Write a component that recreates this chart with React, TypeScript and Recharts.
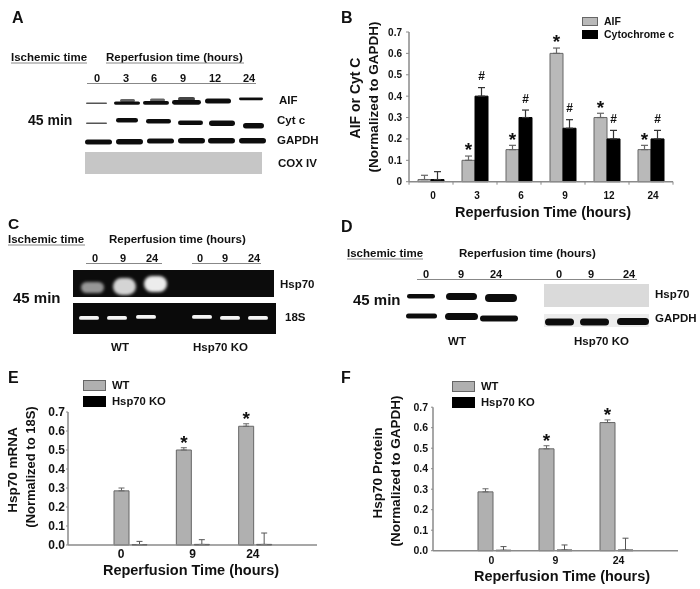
import { BarChart, Bar, XAxis, YAxis, ErrorBar, Legend, LabelList } from "recharts";

// panel B
const timesB = ["0", "3", "6", "9", "12", "24"];
const aifValues = [0.01, 0.1, 0.15, 0.6, 0.3, 0.15];
const aifErrors = [0.02, 0.02, 0.02, 0.025, 0.02, 0.02];
const aifMarks = ["", "*", "*", "*", "*", "*"];
const cytValues = [0.01, 0.4, 0.3, 0.25, 0.2, 0.2];
const cytErrors = [0.037, 0.04, 0.035, 0.04, 0.04, 0.04];
const cytMarks = ["", "#", "#", "#", "#", "#"];
const ticksB = [0, 0.1, 0.2, 0.3, 0.4, 0.5, 0.6, 0.7];

// panels E and F
const timesKo = ["0", "9", "24"];
const mrnaWt = [0.285, 0.5, 0.625];
const mrnaWtErrors = [0.015, 0.012, 0.013];
const mrnaKo = [0.002, 0.003, 0.003];
const mrnaKoErrors = [0.017, 0.025, 0.06];
const proteinWt = [0.287, 0.497, 0.625];
const proteinWtErrors = [0.015, 0.015, 0.013];
const proteinKo = [0.002, 0.003, 0.003];
const proteinKoErrors = [0.018, 0.025, 0.058];
const koMarks = ["", "*", "*"];

const dataB = timesB.map((t, i) => ({
  t,
  aif: aifValues[i],
  aifErr: [0, aifErrors[i]],
  aifMark: aifMarks[i],
  cyt: cytValues[i],
  cytErr: [0, cytErrors[i]],
  cytMark: cytMarks[i],
}));

const toRows = (wt: number[], wtErr: number[], ko: number[], koErr: number[]) =>
  timesKo.map((t, i) => ({
    t,
    wt: wt[i],
    wtErr: [0, wtErr[i]],
    ko: ko[i],
    koErr: [0, koErr[i]],
    mark: koMarks[i],
  }));

const FONT = "'Liberation Sans', Arial, sans-serif";
const GREY = "#b9b9b9";
const WT_GREY = "#b0b0b0";
const EDGE = "#666";
const AXIS = "#8a8a8a";

function T({ x, y, size = 12, anchor = "start", children }: any) {
  return (
    <text x={x} y={y} fontSize={size} fontWeight={700} textAnchor={anchor} fontFamily={FONT} fill="#111">
      {children}
    </text>
  );
}

function VT({ x, y, size = 13, children }: any) {
  return (
    <text
      transform={`translate(${x},${y}) rotate(-90)`}
      fontSize={size}
      fontWeight={700}
      textAnchor="middle"
      fontFamily={FONT}
      fill="#111"
    >
      {children}
    </text>
  );
}

function Rule({ x1, x2, y }: any) {
  return <line x1={x1} x2={x2} y1={y} y2={y} stroke="#888" strokeWidth={1} />;
}

function Band({ x, y, w, h, fill = "#111", blur = "soft" }: any) {
  return <rect x={x} y={y} width={w} height={h} rx={h / 2} fill={fill} filter={`url(#${blur})`} />;
}

function BlotA() {
  return (
    <g>
      <rect x={85} y={152} width={177} height={22} fill="#c6c6c6" />
      <Band x={86} y={102.5} w={21} h={1.6} fill="#555" />
      <Band x={120} y={99} w={15} h={3} fill="#666" />
      <Band x={114} y={101.5} w={26} h={3.2} />
      <Band x={150} y={98.5} w={15} h={3} fill="#666" />
      <Band x={143} y={101} w={26} h={3.7} />
      <Band x={178} y={97} w={17} h={4} fill="#444" />
      <Band x={172} y={100} w={29} h={4.7} />
      <Band x={205} y={98.5} w={26} h={5} />
      <Band x={239} y={97.5} w={24} h={2.7} />

      <Band x={86} y={122.5} w={21} h={1.6} fill="#555" />
      <Band x={116} y={118} w={22} h={4.5} />
      <Band x={146} y={119} w={25} h={4.5} />
      <Band x={178} y={120.5} w={25} h={4.5} />
      <Band x={209} y={120.5} w={26} h={5.5} />
      <Band x={243} y={123} w={21} h={5.5} />

      <Band x={85} y={139.5} w={27} h={5} />
      <Band x={116} y={139} w={27} h={5.5} />
      <Band x={147} y={138.5} w={27} h={5} />
      <Band x={178} y={138} w={27} h={5.5} />
      <Band x={208} y={138} w={27} h={5.5} />
      <Band x={239} y={138} w={27} h={5.5} />
    </g>
  );
}

function BlotC() {
  return (
    <g>
      <rect x={73} y={270} width={201} height={27} fill="#0c0c0c" />
      <rect x={73} y={303} width={203} height={31} fill="#0a0a0a" />
      <Band x={81} y={282} w={23} h={11} fill="#969696" blur="wide" />
      <Band x={113} y={278} w={23} h={17} fill="#d4d4d4" blur="wide" />
      <Band x={144} y={276} w={23} h={16} fill="#ececec" blur="wide" />
      <Band x={79} y={316} w={20} h={3.8} fill="#f4f4f4" />
      <Band x={107} y={316} w={20} h={3.8} fill="#f4f4f4" />
      <Band x={136} y={315} w={20} h={3.8} fill="#f4f4f4" />
      <Band x={192} y={315} w={20} h={3.8} fill="#f4f4f4" />
      <Band x={220} y={316} w={20} h={3.8} fill="#f4f4f4" />
      <Band x={248} y={316} w={20} h={3.8} fill="#f4f4f4" />
    </g>
  );
}

function BlotD() {
  return (
    <g>
      <rect x={544} y={284} width={105} height={23} fill="#dadada" />
      <rect x={544} y={314} width={105} height={13} fill="#ececec" />
      <Band x={407} y={294} w={28} h={4.5} />
      <Band x={446} y={293} w={31} h={7} />
      <Band x={485} y={294} w={32} h={8} />
      <Band x={406} y={313.5} w={31} h={5} />
      <Band x={445} y={313} w={33} h={7} />
      <Band x={480} y={315.5} w={38} h={6} />
      <Band x={545} y={318.5} w={29} h={7} />
      <Band x={580} y={318.5} w={29} h={7} />
      <Band x={617} y={318} w={32} h={7} />
    </g>
  );
}

function Annotations() {
  return (
    <svg width={700} height={589} style={{ position: "absolute", left: 0, top: 0 }}>
      <defs>
        <filter id="soft" x="-20%" y="-80%" width="140%" height="260%">
          <feGaussianBlur stdDeviation="0.7" />
        </filter>
        <filter id="wide" x="-30%" y="-30%" width="160%" height="160%">
          <feGaussianBlur stdDeviation="1.6" />
        </filter>
      </defs>

      {/* A */}
      <T x={12} y={23} size={16}>A</T>
      <T x={11} y={61} size={11.5}>Ischemic time</T>
      <Rule x1={11} x2={87} y={63} />
      <T x={106} y={61} size={11.5}>Reperfusion time (hours)</T>
      <Rule x1={106} x2={244} y={63} />
      <T x={97} y={82} size={11} anchor="middle">0</T>
      <T x={126} y={82} size={11} anchor="middle">3</T>
      <T x={154} y={82} size={11} anchor="middle">6</T>
      <T x={183} y={82} size={11} anchor="middle">9</T>
      <T x={215} y={82} size={11} anchor="middle">12</T>
      <T x={249} y={82} size={11} anchor="middle">24</T>
      <Rule x1={87} x2={256} y={83.5} />
      <T x={28} y={125} size={14}>45 min</T>
      <T x={279} y={104} size={11.5}>AIF</T>
      <T x={277} y={124} size={11.5}>Cyt c</T>
      <T x={277} y={144} size={11.5}>GAPDH</T>
      <T x={278} y={167} size={11.5}>COX IV</T>
      <BlotA />

      {/* B */}
      <T x={341} y={23} size={16}>B</T>
      <VT x={360} y={98} size={14}>AIF or Cyt C</VT>
      <VT x={378} y={97} size={13.5}>(Normalized to GAPDH)</VT>
      <T x={543} y={217} size={14.5} anchor="middle">Reperfusion Time (hours)</T>

      {/* C */}
      <T x={8} y={229} size={15.5}>C</T>
      <T x={8} y={243} size={11.5}>Ischemic time</T>
      <Rule x1={8} x2={85} y={245} />
      <T x={109} y={243} size={11.5}>Reperfusion time (hours)</T>
      <T x={95} y={262} size={11} anchor="middle">0</T>
      <T x={123} y={262} size={11} anchor="middle">9</T>
      <T x={152} y={262} size={11} anchor="middle">24</T>
      <T x={200} y={262} size={11} anchor="middle">0</T>
      <T x={225} y={262} size={11} anchor="middle">9</T>
      <T x={254} y={262} size={11} anchor="middle">24</T>
      <Rule x1={86} x2={162} y={263.5} />
      <Rule x1={192} x2={261} y={263.5} />
      <T x={13} y={303} size={15}>45 min</T>
      <T x={280} y={288} size={11.5}>Hsp70</T>
      <T x={285} y={321} size={11.5}>18S</T>
      <T x={120} y={351} size={11.5} anchor="middle">WT</T>
      <T x={193} y={351} size={11.5}>Hsp70 KO</T>
      <BlotC />

      {/* D */}
      <T x={341} y={232} size={16}>D</T>
      <T x={347} y={257} size={11.5}>Ischemic time</T>
      <Rule x1={347} x2={423} y={259} />
      <T x={459} y={257} size={11.5}>Reperfusion time (hours)</T>
      <T x={426} y={278} size={11} anchor="middle">0</T>
      <T x={461} y={278} size={11} anchor="middle">9</T>
      <T x={496} y={278} size={11} anchor="middle">24</T>
      <T x={559} y={278} size={11} anchor="middle">0</T>
      <T x={591} y={278} size={11} anchor="middle">9</T>
      <T x={629} y={278} size={11} anchor="middle">24</T>
      <Rule x1={417} x2={637} y={279.5} />
      <T x={353} y={305} size={15}>45 min</T>
      <T x={655} y={298} size={11.5}>Hsp70</T>
      <T x={655} y={322} size={11.5}>GAPDH</T>
      <T x={457} y={345} size={11.5} anchor="middle">WT</T>
      <T x={574} y={345} size={11.5}>Hsp70 KO</T>
      <BlotD />

      {/* E */}
      <T x={8} y={383} size={16}>E</T>
      <VT x={17} y={470} size={13.5}>Hsp70 mRNA</VT>
      <VT x={35} y={467} size={13}>(Normalized to 18S)</VT>
      <T x={191} y={575} size={14.5} anchor="middle">Reperfusion Time (hours)</T>

      {/* F */}
      <T x={341} y={383} size={16}>F</T>
      <VT x={382} y={473} size={13.5}>Hsp70 Protein</VT>
      <VT x={400} y={471} size={13.5}>(Normalized to GAPDH)</VT>
      <T x={562} y={581} size={14.5} anchor="middle">Reperfusion Time (hours)</T>
    </svg>
  );
}

// legend drawn at the spot the figure has it, rows come from the bars
function figureLegend(boxW: number, boxH: number, rowGap: number, fontSize: number) {
  return function FigureLegend({ payload }: any) {
    return (
      <div style={{ display: "flex", flexDirection: "column", gap: rowGap, fontFamily: FONT, fontWeight: 700, fontSize, lineHeight: `${boxH}px`, color: "#111" }}>
        {(payload || []).map((p: any) => (
          <div key={p.value} style={{ display: "flex", alignItems: "center", gap: 6, whiteSpace: "nowrap" }}>
            <span style={{ width: boxW, height: boxH, background: p.color, border: `1px solid ${p.color === "#000" ? "#000" : EDGE}`, boxSizing: "border-box" }} />
            {p.value}
          </div>
        ))}
      </div>
    );
  };
}

// tick at category edges, as the figure has them
function BetweenTick({ x, y, payload, index, visibleTicksCount }: any) {
  const half = 22;
  return (
    <g>
      <line x1={x - half} x2={x - half} y1={y} y2={y + 3} stroke={AXIS} />
      {index === visibleTicksCount - 1 && <line x1={x + half} x2={x + half} y1={y} y2={y + 3} stroke={AXIS} />}
      <text x={x + 2} y={y + 17} textAnchor="middle" fontFamily={FONT} fontWeight={700} fontSize={10} fill="#111">
        {payload.value}
      </text>
    </g>
  );
}

function markLabel(errors: number[], pxPerUnit: number, gap: number, size: number) {
  return function MarkLabel({ x, y, width, value, index }: any) {
    if (!value) return null;
    const top = y - errors[index] * pxPerUnit;
    return (
      <text x={x + width / 2} y={top - gap + (value === "*" ? size * 0.42 : 0)} textAnchor="middle" fontFamily={FONT} fontSize={size} fontWeight={700} fill="#111">
        {value}
      </text>
    );
  };
}

function ChartB() {
  return (
    <BarChart
      style={{ position: "absolute", left: 340, top: 0 }}
      width={360}
      height={205}
      data={dataB}
      margin={{ top: 10, right: 27, bottom: 3.3, left: 39 }}
      barSize={13}
      barGap={0}
      barCategoryGap={9}
    >
      <XAxis dataKey="t" height={20} axisLine={{ stroke: AXIS, strokeWidth: 1.5 }} tickLine={false} tickSize={0} tickMargin={0} tick={<BetweenTick />} interval={0} />
      <YAxis
        width={30}
        domain={[0, 0.7]}
        ticks={ticksB}
        interval={0}
        axisLine={{ stroke: AXIS, strokeWidth: 1.5 }}
        tickLine={{ stroke: AXIS }}
        tickSize={3}
        tickMargin={4}
        tickFormatter={(v: number) => (v === 0 ? "0" : v.toFixed(1))}
        tick={{ fontFamily: FONT, fontWeight: 700, fontSize: 10, fill: "#111" }}
      />
      <Legend
        verticalAlign="top"
        itemSorter={null}
        content={figureLegend(16, 9, 4, 10.5)}
        wrapperStyle={{ position: "absolute", left: 242, top: 17, width: 120 }}
      />
      <Bar dataKey="aif" name="AIF" fill={GREY} stroke={EDGE} isAnimationActive={false}>
        <ErrorBar dataKey="aifErr" width={3.5} stroke={EDGE} strokeWidth={1.2} isAnimationActive={false} />
        <LabelList dataKey="aifMark" content={markLabel(aifErrors, 245.4, 7, 19)} />
      </Bar>
      <Bar dataKey="cyt" name="Cytochrome c" fill="#000" stroke="#000" isAnimationActive={false}>
        <ErrorBar dataKey="cytErr" width={3.5} stroke="#333" strokeWidth={1.2} isAnimationActive={false} />
        <LabelList dataKey="cytMark" content={markLabel(cytErrors, 245.4, 6, 12)} />
      </Bar>
    </BarChart>
  );
}

function KoTick({ nudge, fontSize }: { nudge: number[]; fontSize: number }) {
  return function Tick({ x, y, payload, index }: any) {
    return (
      <text x={x + nudge[index]} y={y + 13} textAnchor="middle" fontFamily={FONT} fontWeight={700} fontSize={fontSize} fill="#111">
        {payload.value}
      </text>
    );
  };
}

function KoChart({ rows, left, top, width, height, plotTop, plotBottom, axisLeft, axisRight, nudge, pxPerUnit, legendLeft, legendTop, tickFont, tickGap }: any) {
  const Tick = KoTick({ nudge, fontSize: tickFont });
  return (
    <BarChart
      style={{ position: "absolute", left, top }}
      width={width}
      height={height}
      data={rows}
      margin={{ top: plotTop, right: width - axisRight, bottom: height - plotBottom - 20, left: axisLeft - 30 }}
      barSize={15}
      barGap={3}
    >
      <XAxis dataKey="t" height={20} axisLine={{ stroke: AXIS, strokeWidth: 1.5 }} tickLine={false} tickSize={0} tickMargin={0} tick={<Tick />} interval={0} padding={{ left: 31, right: 31 }} />
      <YAxis
        width={30}
        domain={[0, 0.7]}
        ticks={ticksB}
        interval={0}
        axisLine={{ stroke: AXIS, strokeWidth: 1.5 }}
        tickLine={{ stroke: AXIS }}
        tickSize={2}
        tickMargin={tickGap}
        tickFormatter={(v: number) => v.toFixed(1)}
        tick={{ fontFamily: FONT, fontWeight: 700, fontSize: tickFont, fill: "#111" }}
      />
      <Legend
        verticalAlign="top"
        itemSorter={null}
        content={figureLegend(23, 11, 4.5, 11.25)}
        wrapperStyle={{ position: "absolute", left: legendLeft, top: legendTop, width: 120 }}
      />
      <Bar dataKey="wt" name="WT" fill={WT_GREY} stroke={EDGE} isAnimationActive={false}>
        <ErrorBar dataKey="wtErr" width={3} stroke={EDGE} strokeWidth={1} isAnimationActive={false} />
        <LabelList dataKey="mark" content={markLabel(rows.map((r: any) => r.wtErr[1]), pxPerUnit, 6, 19)} />
      </Bar>
      <Bar dataKey="ko" name="Hsp70 KO" fill="#000" stroke="#000" isAnimationActive={false}>
        <ErrorBar dataKey="koErr" width={3} stroke="#555" strokeWidth={1} isAnimationActive={false} />
      </Bar>
    </BarChart>
  );
}

export default function App() {
  return (
    <div style={{ position: "absolute", left: 0, top: 0, width: 700, height: 589, background: "#fff", overflow: "hidden", filter: "blur(0.35px)" }}>
      <Annotations />
      <ChartB />
      <KoChart
        rows={toRows(mrnaWt, mrnaWtErrors, mrnaKo, mrnaKoErrors)}
        left={0}
        top={376}
        width={340}
        height={200}
        plotTop={9.5}
        plotBottom={169}
        axisLeft={68}
        axisRight={317}
        nudge={[-9, 0, -2]}
        pxPerUnit={227.8}
        legendLeft={83}
        legendTop={4}
        tickFont={12}
        tickGap={1}
      />
      <KoChart
        rows={toRows(proteinWt, proteinWtErrors, proteinKo, proteinKoErrors)}
        left={350}
        top={372}
        width={350}
        height={210}
        plotTop={8.7}
        plotBottom={178.7}
        axisLeft={83}
        axisRight={328}
        nudge={[-3, 0, 2]}
        pxPerUnit={243}
        legendLeft={102}
        legendTop={9}
        tickFont={10.5}
        tickGap={3}
      />
    </div>
  );
}
